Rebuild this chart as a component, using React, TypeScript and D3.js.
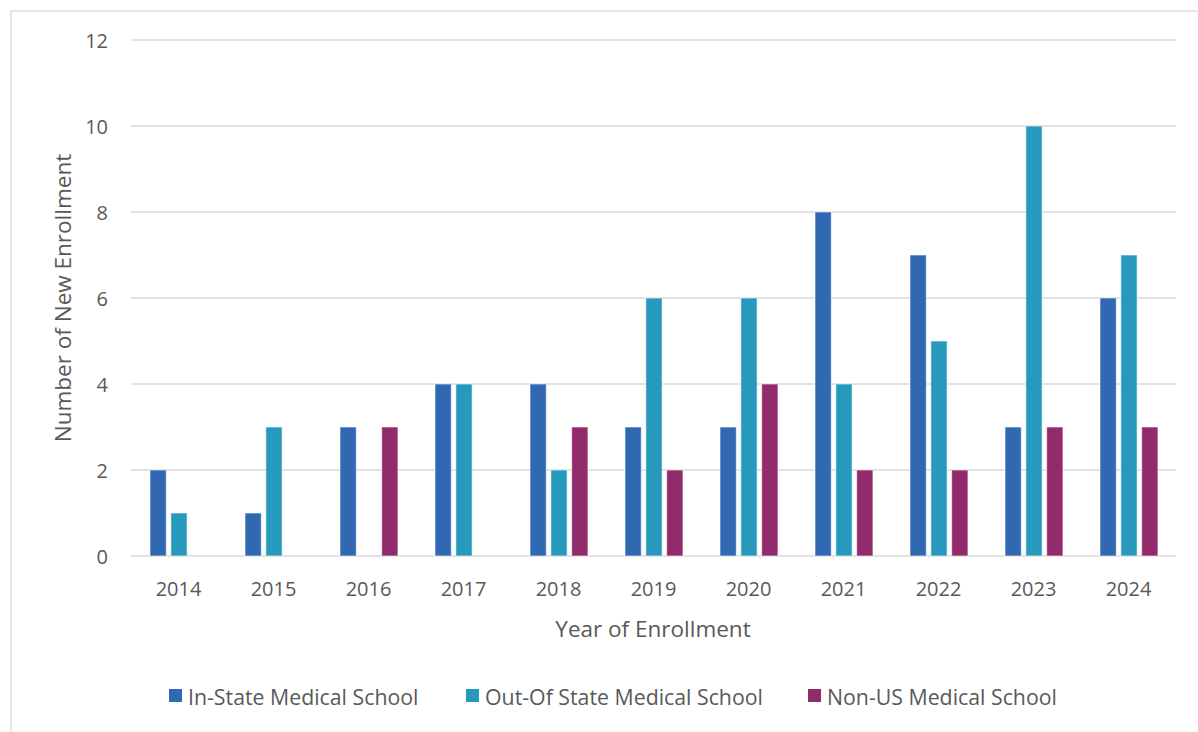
import React from 'react';
import * as d3 from 'd3';

const years = ['2014', '2015', '2016', '2017', '2018', '2019', '2020', '2021', '2022', '2023', '2024'];
const seriesNames = ['In-State Medical School', 'Out-Of State Medical School', 'Non-US Medical School'];
const inState = [2, 1, 3, 4, 4, 3, 3, 8, 7, 3, 6];
const outOfState = [1, 3, 0, 4, 2, 6, 6, 4, 5, 10, 7];
const nonUS = [0, 0, 3, 0, 3, 2, 4, 2, 2, 3, 3];
const yTicks = [0, 2, 4, 6, 8, 10, 12];
const colors = ['#3068b2', '#2799bc', '#922b6b'];

const WIDTH = 1198;
const HEIGHT = 732;
const MARGIN = { top: 40, right: 22, bottom: 176, left: 131 };
const FONT = "'Open Sans', 'Noto Sans', sans-serif";

export default function App() {
  const boundsWidth = WIDTH - MARGIN.left - MARGIN.right;
  const boundsHeight = HEIGHT - MARGIN.top - MARGIN.bottom;
  const allSeries = [inState, outOfState, nonUS];

  const xScale = d3.scaleBand().domain(years).range([0, boundsWidth]);
  const bw = xScale.bandwidth();
  const xInner = d3
    .scaleBand()
    .domain(seriesNames)
    .range([bw * 0.2, bw * 0.81])
    .paddingInner(0.22);
  const yScale = d3.scaleLinear().domain([0, 12]).range([boundsHeight, 0]);

  const grid = yTicks.map((v) => (
    <g key={v}>
      <line x1={0} x2={boundsWidth} y1={yScale(v)} y2={yScale(v)} stroke="#d9d9d9" strokeWidth={1.3} />
      <text x={-23} y={yScale(v)} textAnchor="end" dominantBaseline="central" fontSize={20} fill="#595959">
        {v}
      </text>
    </g>
  ));

  const bars = years.map((year, i) => (
    <g key={year} transform={`translate(${xScale(year)},0)`}>
      {allSeries.map((s, j) =>
        s[i] > 0 ? (
          <rect
            key={j}
            x={xInner(seriesNames[j])}
            y={yScale(s[i])}
            width={xInner.bandwidth()}
            height={boundsHeight - yScale(s[i])}
            fill={colors[j]}
            stroke="#ffffff"
            strokeOpacity={0.6}
            strokeWidth={1}
          />
        ) : null
      )}
      <text x={bw / 2} y={boundsHeight + 32} textAnchor="middle" dominantBaseline="central" fontSize={20} fill="#595959">
        {year}
      </text>
    </g>
  ));

  const legendX = [169, 466, 808];

  return (
    <svg width={WIDTH} height={HEIGHT} style={{ position: 'absolute', left: 0, top: 0 }} fontFamily={FONT}>
      <rect x={0} y={0} width={WIDTH} height={HEIGHT} fill="#ffffff" />
      <rect x={11} y={11} width={WIDTH + 20} height={HEIGHT + 20} fill="none" stroke="#d9d9d9" strokeWidth={1.3} />
      <g transform={`translate(${MARGIN.left},${MARGIN.top})`}>
        {grid}
        {bars}
      </g>
      <text
        transform={`translate(62,${MARGIN.top + boundsHeight / 2}) rotate(-90)`}
        textAnchor="middle"
        dominantBaseline="central"
        fontSize={22.5}
        fill="#595959"
      >
        Number of New Enrollment
      </text>
      <text x={653} y={628} textAnchor="middle" dominantBaseline="central" fontSize={22.5} fill="#595959">
        Year of Enrollment
      </text>
      {seriesNames.map((name, j) => (
        <g key={name} transform={`translate(${legendX[j]},696)`}>
          <rect x={0} y={-7} width={13} height={13} fill={colors[j]} />
          <text x={19} y={0} dominantBaseline="central" fontSize={21.3} fill="#595959">
            {name}
          </text>
        </g>
      ))}
    </svg>
  );
}
